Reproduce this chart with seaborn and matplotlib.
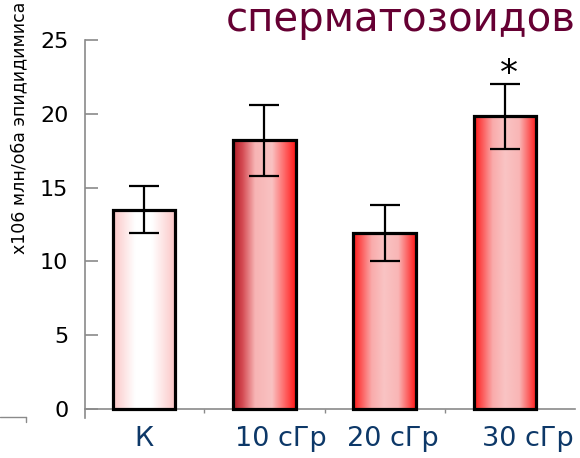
import numpy as np
import matplotlib
matplotlib.use("Agg")
import matplotlib.pyplot as plt
import matplotlib.transforms as mtransforms
import seaborn as sns
import pandas as pd
from matplotlib.colors import LinearSegmentedColormap
from matplotlib.lines import Line2D

categories = ["К", "10 сГр", "20 сГр", "30 сГр"]
values = [13.5, 18.2, 11.95, 19.85]
errors = [1.6, 2.4, 1.9, 2.2]
significance = ["", "", "", "*"]
yticks = [0, 5, 10, 15, 20, 25]
title = "сперматозоидов"
ylabel = "x106 млн/оба эпидидимиса"

# horizontal offsets (in points) of the category labels, as in the original slide
label_shift_pt = [0, 11.5, 6, 16]

gradients = [
    [(0.0, "#fbc6c6"), (0.35, "#ffffff"), (0.62, "#ffffff"), (1.0, "#fbc4c4")],
    [(0.0, "#b01c26"), (0.15, "#d44a52"), (0.35, "#f7b4b4"), (0.62, "#f9c2c2"), (0.85, "#ff5a5a"), (1.0, "#ff1616")],
    [(0.0, "#ff1818"), (0.3, "#f9acac"), (0.5, "#f9c4c4"), (0.72, "#f9b6b6"), (1.0, "#ff1818")],
    [(0.0, "#ff1818"), (0.3, "#f9acac"), (0.5, "#f9c4c4"), (0.72, "#f9b6b6"), (1.0, "#ff1818")],
]

sns.set_theme(style="white")
plt.rcParams["font.family"] = ["DejaVu Sans"]

W, H = 580, 458
fig = plt.figure(figsize=(W / 100, H / 100), dpi=100)
ax = fig.add_axes([85 / W, (H - 418) / H, (575 - 85) / W, (418 - 40) / H])

df = pd.DataFrame({"cat": categories, "val": values})
sns.barplot(data=df, x="cat", y="val", ax=ax, width=0.52, color="white",
            edgecolor="black", linewidth=2.3, errorbar=None, zorder=3)

for p, stops in zip(ax.patches, gradients):
    cmap = LinearSegmentedColormap.from_list("g", stops)
    x0, w, h = p.get_x(), p.get_width(), p.get_height()
    grad = np.linspace(0, 1, 256).reshape(1, -1)
    im = ax.imshow(grad, cmap=cmap, extent=[x0, x0 + w, 0, h], aspect="auto",
                   zorder=2, interpolation="bilinear")
    im.set_clip_path(p)
    p.set_facecolor("none")

ax.errorbar(x=np.arange(len(values)), y=values, yerr=errors, fmt="none",
            ecolor="black", elinewidth=1.6, capsize=11, capthick=1.6, zorder=4)

for i, s in enumerate(significance):
    if s:
        ax.annotate(s, xy=(i, values[i] + errors[i]), xytext=(3, -5.5),
                    textcoords="offset points", ha="center", va="bottom",
                    fontsize=26, color="black", annotation_clip=False)

ax.set_xlim(-0.49, 3.58)
ax.set_ylim(-0.6, 25)
ax.set_yticks(yticks)
ax.set_yticklabels([str(t) for t in yticks])
ax.set_xlabel("")
ax.set_ylabel("")

for side in ["top", "right"]:
    ax.spines[side].set_visible(False)
ax.spines["left"].set_color("#8a8a8a")
ax.spines["left"].set_linewidth(1.2)
ax.spines["bottom"].set_color("#8a8a8a")
ax.spines["bottom"].set_linewidth(1.2)
ax.spines["bottom"].set_position(("data", 0))

ax.tick_params(axis="y", direction="in", length=9.4, width=1.2, color="#8a8a8a",
               labelsize=16, labelcolor="black", pad=12, left=True)
ax.tick_params(axis="x", which="major", length=0, labelsize=19.5,
               labelcolor="#0d3868", pad=12)
ax.set_xticks([0.5, 1.5, 2.5], minor=True)
ax.tick_params(axis="x", which="minor", direction="out", length=3, width=1,
               color="#8a8a8a", bottom=True)

for lab, sh in zip(ax.get_xticklabels(), label_shift_pt):
    lab.set_transform(lab.get_transform() +
                      mtransforms.ScaledTranslation(sh / 72, 0, fig.dpi_scale_trans))

fig.text(226 / W, 1 - 20 / H, title, color="#660033", fontsize=29,
         ha="left", va="center")
fig.text(19 / W, 1 - 128 / H, ylabel, rotation=90, fontsize=12.5,
         ha="center", va="center", color="black")

fig.add_artist(Line2D([0, 26 / W], [1 - 417 / H, 1 - 417 / H], color="#8a8a8a",
                      lw=1, transform=fig.transFigure))
fig.add_artist(Line2D([26 / W, 26 / W], [1 - 417 / H, 1 - 422 / H], color="#8a8a8a",
                      lw=1, transform=fig.transFigure))

fig.savefig("out.png", dpi=100)
